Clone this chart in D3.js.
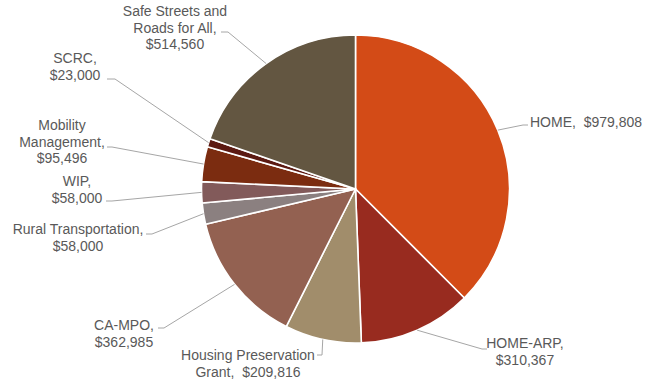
<!DOCTYPE html>
<html>
<head>
<meta charset="utf-8">
<script src="https://cdn.jsdelivr.net/npm/d3@7"></script>
<style>
  html, body { margin: 0; padding: 0; background: #fff; }
  svg { display: block; }
  .lbl { font-family: "Liberation Sans", Arial, sans-serif; font-size: 14px; fill: #595959; }
</style>
</head>
<body>
<svg id="chart" width="650" height="385"></svg>
<script>
// Funding programs, clockwise from 12 o'clock
const programs = ["HOME", "HOME-ARP", "Housing Preservation Grant", "CA-MPO",
  "Rural Transportation", "WIP", "Mobility Management", "SCRC", "Safe Streets and Roads for All"];
const amounts = [979808, 310367, 209816, 362985, 58000, 58000, 95496, 23000, 514560];
const colors = ["#D34B17", "#982B1F", "#A18D6B", "#936151", "#8B8080",
  "#825A5A", "#7B2C10", "#5C1A12", "#635641"];

// Label text lines ({v} is replaced with the formatted amount)
const labelLines = [
  ["HOME,  {v}"],
  ["HOME-ARP,", "{v}"],
  ["Housing Preservation", "Grant,  {v}"],
  ["CA-MPO,", "{v}"],
  ["Rural Transportation,", "{v}"],
  ["WIP,", "{v}"],
  ["Mobility", "Management,", "{v}"],
  ["SCRC,", "{v}"],
  ["Safe Streets and", "Roads for All,", "{v}"]
];

// Label placement: text anchor point, alignment, leader elbow and leader end
const labelLayout = [
  { x: 530, y: 127, anchor: "start",  elbow: [523, 125], end: [528, 125] },
  { x: 525, y: 348, anchor: "middle", elbow: [482, 349], end: [487, 349] },
  { x: 248, y: 360, anchor: "middle", elbow: [322, 355], end: [317, 355] },
  { x: 124, y: 330, anchor: "middle", elbow: [164, 328], end: [158, 328] },
  { x: 78,  y: 234, anchor: "middle", elbow: [152, 234], end: [146, 234] },
  { x: 77,  y: 186, anchor: "middle", elbow: [112, 201], end: [106, 201] },
  { x: 62,  y: 130, anchor: "middle", elbow: [112, 147], end: [107, 147] },
  { x: 75,  y: 63,  anchor: "middle", elbow: [115, 79],  end: [107, 79] },
  { x: 175, y: 16,  anchor: "middle", elbow: [228, 32],  end: [221, 32] }
];

const W = 650, H = 385;
const cx = 355.5, cy = 189, R = 154;
const lineH = 16.6;

const svg = d3.select("#chart");
const g = svg.append("g").attr("transform", `translate(${cx},${cy})`);

const data = programs.map((p, i) => ({ name: p, value: amounts[i], color: colors[i], idx: i }));

const pie = d3.pie().sort(null).value(d => d.value).startAngle(0).endAngle(2 * Math.PI);
const arcs = pie(data);

const arc = d3.arc().innerRadius(0).outerRadius(R);
const edge = d3.arc().innerRadius(R).outerRadius(R);

g.selectAll("path.slice")
  .data(arcs)
  .join("path")
  .attr("class", "slice")
  .attr("d", arc)
  .attr("fill", d => d.data.color)
  .attr("stroke", "#fff")
  .attr("stroke-width", 1.6)
  .attr("stroke-linejoin", "round");

const fmt = v => "$" + d3.format(",")(v);

// Leader lines from the slice's outer edge to the label
const leaders = svg.append("g");
arcs.forEach(a => {
  const L = labelLayout[a.data.idx];
  const [ex, ey] = edge.centroid(a);
  const pts = [[cx + ex, cy + ey], L.elbow, L.end];
  leaders.append("path")
    .attr("d", d3.line()(pts))
    .attr("fill", "none")
    .attr("stroke", "#A6A6A6")
    .attr("stroke-width", 1);
});

// Labels
const labels = svg.append("g");
arcs.forEach(a => {
  const L = labelLayout[a.data.idx];
  const t = labels.append("text")
    .attr("class", "lbl")
    .attr("text-anchor", L.anchor)
    .attr("x", L.x)
    .attr("y", L.y)
    .attr("xml:space", "preserve")
    .style("white-space", "pre");
  labelLines[a.data.idx].forEach((ln, k) => {
    t.append("tspan")
      .attr("x", L.x)
      .attr("y", L.y + k * lineH)
      .text(ln.replace("{v}", fmt(a.data.value)));
  });
});
</script>
</body>
</html>
